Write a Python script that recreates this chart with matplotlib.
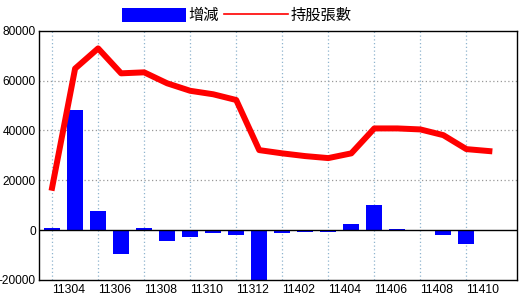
import matplotlib
matplotlib.use("Agg")
import matplotlib.pyplot as plt
from matplotlib.patches import Patch
from matplotlib.lines import Line2D
import numpy as np

months = ["11303", "11304", "11305", "11306", "11307", "11308", "11309", "11310",
          "11311", "11312", "11401", "11402", "11403", "11404", "11405", "11406",
          "11407", "11408", "11409", "11410"]
change = [900, 48000, 7500, -9500, 900, -4300, -2600, -1100, -2150, -21000,
          -950, -700, -700, 2500, 10000, 500, 0, -2150, -5500, 0]
holding = [17000, 64800, 72900, 62900, 63300, 58900, 55900, 54500, 52200, 32100,
           30800, 29700, 28900, 30800, 40800, 40800, 40400, 38100, 32500, 31700]
yticks = [-20000, 0, 20000, 40000, 60000, 80000]
label_months = ["11304", "11306", "11308", "11310", "11312",
                "11402", "11404", "11406", "11408", "11410"]

plt.rcParams['font.family'] = ['Liberation Sans', 'Noto Sans CJK TC', 'DejaVu Sans']

fig = plt.figure(figsize=(5.2, 3.0), dpi=100)
ax = fig.add_axes([38.5/520, 1 - 280/300, (517 - 38.5)/520, (280 - 30.7)/300])

x = np.arange(len(months))
ax.bar(x, change, width=0.7, color="#0000ff", zorder=2)
ax.plot(x, holding, color="#ff0000", lw=4.3, zorder=3, solid_joinstyle="round")
ax.axhline(0, color="black", lw=1, zorder=2.5)

ax.set_ylim(-20000, 80000)
ax.set_xlim(-0.59, 20.2)
ax.set_yticks(yticks)
ax.set_yticklabels([str(v) for v in yticks], fontsize=8.6)

# vertical grid lines at even indices
for i in range(0, len(months), 2):
    ax.axvline(i, color="#8fb4cf", lw=0.9, ls=(0, (1, 2)), zorder=1)
for v in yticks[1:-1]:
    if v != 0:
        ax.axhline(v, color="#999999", lw=0.9, ls=(0, (1, 2)), zorder=1)

lab_pos = [months.index(m) - 0.28 for m in label_months]
ax.set_xticks(lab_pos)
ax.set_xticklabels(label_months, fontsize=8.8)
ax.tick_params(axis="y", length=0, pad=2)
ax.tick_params(axis="x", length=0, pad=3)

for s in ax.spines.values():
    s.set_color("black")
    s.set_linewidth(1)

handles = [Patch(facecolor="#0000ff", edgecolor="none"),
           Line2D([0], [0], color="#ff0000", lw=1.2)]
leg = fig.legend(handles, ["增減", "持股張數"], loc="center", bbox_to_anchor=(0.455, 1 - 15.5/300),
                 ncol=2, frameon=False, handlelength=4.2, handleheight=1.0,
                 handletextpad=0.15, columnspacing=0.3, borderaxespad=0,
                 prop={"family": ["Noto Sans CJK TC", "DejaVu Sans"], "size": 11})

fig.savefig("out.png", dpi=100, facecolor="white")
